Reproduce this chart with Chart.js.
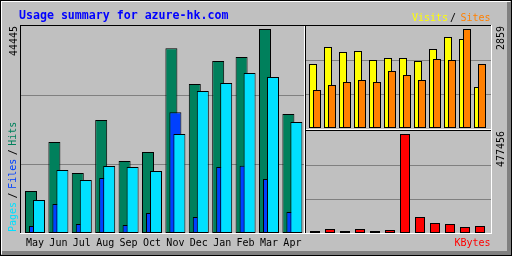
<!DOCTYPE html>
<html>
<head>
<meta charset="utf-8">
<script src="https://cdn.jsdelivr.net/npm/chart.js@4.4.1/dist/chart.umd.min.js"></script>
<style>
  html, body { margin: 0; padding: 0; background: #c0c0c0; }
  #wrap { position: relative; width: 512px; height: 256px; }
  #wrap canvas { position: absolute; left: 0; top: 0; }
</style>
</head>
<body>
<div id="wrap">
  <canvas id="usage" width="512" height="256"></canvas>
  <canvas id="visitsChart" width="512" height="256"></canvas>
  <canvas id="kbytesChart" width="512" height="256"></canvas>
</div>
<script>
// Monthly summary (May .. Apr)
var months = ['May', 'Jun', 'Jul', 'Aug', 'Sep', 'Oct', 'Nov', 'Dec', 'Jan', 'Feb', 'Mar', 'Apr'];
var hits   = [9151, 19826, 13072, 24619, 15687, 17647, 40241, 32463, 37474, 38345, 44445, 25926];
var files  = [1525, 6318, 1961, 11983, 1743, 4357, 26297, 3486, 14379, 14663, 11765, 4575];
var pages  = [7190, 13726, 11547, 14597, 14379, 13508, 21569, 30938, 32681, 34859, 33988, 24184];
var visits = [1848, 2339, 2195, 2224, 1964, 2022, 2022, 1935, 2282, 2628, 2570, 1184];
var sites  = [1097, 1242, 1328, 1386, 1328, 1646, 1531, 1386, 1993, 1964, 2859, 1848];
var kbytes = [9600, 19300, 9600, 19300, 9600, 14500, 477456, 77200, 48200, 43400, 28900, 33800];

const GREY = '#c0c0c0';
const DKGREY = '#808080';
const MONO = "'DejaVu Sans Mono', monospace";

const hitsPeak = Math.max(...hits);
const visitsPeak = Math.max(...visits, ...sites);
const kbytesPeak = Math.max(...kbytes);

/**
 * Put bars of one series at month index + shift (in month units)
 */
function points(values, shift) {
    return values.map((v, i) => ({ x: i + shift, y: v }));
}

function barSet(label, values, shift, color, thickness) {
    return {
        label: label,
        data: points(values, shift),
        backgroundColor: color,
        borderColor: '#000000',
        borderWidth: 1,
        borderSkipped: false,
        inflateAmount: 0,
        barThickness: thickness,
        grouped: false,
    };
}

// grid axis: two lines splitting the panel in thirds
const gridAxis = {
    type: 'linear',
    position: 'left',
    min: 0,
    max: 3,
    afterBuildTicks: (scale) => { scale.ticks = [{ value: 1 }, { value: 2 }]; },
    ticks: { display: false },
    border: { display: false },
    grid: { color: DKGREY, drawTicks: false, lineWidth: 1 },
};

// month axis of the small panels (one month = 15px)
const smallMonthAxis = { type: 'linear', display: false, offset: false, min: -0.6, max: 11.7333 };

function baseOptions(padding) {
    return {
        responsive: false,
        animation: false,
        events: [],
        layout: { padding: padding },
        plugins: { legend: { display: false }, tooltip: { enabled: false } },
    };
}

function upText(ctx, str, x, y, color) {
    ctx.save();
    ctx.translate(x, y);
    ctx.rotate(-Math.PI / 2);
    ctx.fillStyle = color;
    ctx.fillText(str, 0, 0);
    ctx.restore();
}

// Frame, panel borders and all the loose texts
const framePlugin = {
    id: 'frame',
    beforeDraw(chart) {
        const ctx = chart.ctx;
        ctx.save();
        ctx.fillStyle = GREY;
        ctx.fillRect(0, 0, 512, 256);
        // bevel
        ctx.fillStyle = '#ffffff';
        ctx.fillRect(1, 1, 509, 1);
        ctx.fillRect(1, 1, 1, 253);
        ctx.fillStyle = DKGREY;
        ctx.fillRect(507, 2, 4, 253);
        ctx.fillRect(2, 251, 509, 4);
        ctx.fillStyle = '#000000';
        ctx.fillRect(0, 0, 512, 1);
        ctx.fillRect(0, 255, 512, 1);
        ctx.fillRect(0, 0, 1, 256);
        ctx.fillRect(511, 0, 1, 256);
        // sunken plot box + section lines
        ctx.fillRect(20, 25, 472, 1);
        ctx.fillRect(20, 25, 1, 209);
        ctx.fillRect(305, 25, 1, 209);
        ctx.fillRect(305, 130, 186, 1);
        ctx.fillStyle = '#ffffff';
        ctx.fillRect(20, 233, 472, 1);
        ctx.fillRect(491, 25, 1, 209);
        ctx.fillRect(304, 26, 1, 207);
        ctx.fillRect(306, 129, 185, 1);
        ctx.restore();
    },
    afterDraw(chart) {
        const ctx = chart.ctx;
        ctx.save();
        ctx.textBaseline = 'alphabetic';
        ctx.textAlign = 'left';
        ctx.font = 'bold 11.6px ' + MONO;
        ctx.fillStyle = '#0000ff';
        ctx.fillText('Usage summary for azure-hk.com', 19, 19);

        ctx.font = '10px ' + MONO;
        ctx.textAlign = 'right';
        ctx.fillStyle = '#ff8000';
        ctx.fillText('Sites', 490.5, 21);
        ctx.fillStyle = '#ffff00';
        ctx.fillText('Visits', 448, 21);
        ctx.textAlign = 'center';
        ctx.fillStyle = '#000000';
        ctx.fillText('/', 453, 21);
        ctx.textAlign = 'right';
        ctx.fillStyle = '#ff0000';
        ctx.fillText('KBytes', 490.5, 246);

        // rotated maxima
        ctx.textAlign = 'left';
        upText(ctx, String(hitsPeak), 16.5, 56, '#000000');
        upText(ctx, String(visitsPeak), 503.5, 50, '#000000');
        upText(ctx, String(kbytesPeak), 503.5, 167, '#000000');

        // Pages / Files / Hits legend, bottom to top
        const parts = [['Pages', '#00e0ff'], ['/', '#000000'], ['Files', '#0040ff'], ['/', '#000000'], ['Hits', '#00805c']];
        let y = 232;
        parts.forEach(([str, color]) => {
            upText(ctx, str, 15.5, y, color);
            y -= ctx.measureText(str).width + 3.5;
        });
        ctx.restore();
    }
};

// Left panel: hits / files / pages (first dataset is drawn on top)
const usageChart = new Chart(document.getElementById('usage'), {
    type: 'bar',
    data: {
        datasets: [
            barSet('Pages', pages, 4 / 23.4, '#00e0ff', 12),
            barSet('Files', files, 0, '#0040ff', 12),
            barSet('Hits', hits, -4 / 23.4, '#00805c', 12),
        ]
    },
    options: Object.assign(baseOptions({ left: 21, right: 208, top: 26, bottom: 0 }), {
        scales: {
            x: {
                type: 'linear',
                offset: false,
                min: -0.598,
                max: 11.496,
                afterBuildTicks: (scale) => { scale.ticks = months.map((m, i) => ({ value: i })); },
                afterFit: (scale) => { scale.height = 23; },
                grid: { display: false, drawTicks: false },
                border: { display: false },
                ticks: {
                    autoSkip: false,
                    maxRotation: 0,
                    padding: 4,
                    color: '#000000',
                    font: { family: MONO, size: 10 },
                    callback: (v) => months[v],
                },
            },
            y: { display: false, min: 0, max: hitsPeak * 207 / 204 },
            g: gridAxis,
        }
    }),
    plugins: [framePlugin],
});

// Top right panel: visits / sites
const visitsChart = new Chart(document.getElementById('visitsChart'), {
    type: 'bar',
    data: {
        datasets: [
            barSet('Sites', sites, 2 / 15, '#ff8000', 8),
            barSet('Visits', visits, -2 / 15, '#ffff00', 8),
        ]
    },
    options: Object.assign(baseOptions({ left: 306, right: 21, top: 26, bottom: 128 }), {
        scales: {
            x: smallMonthAxis,
            y: { display: false, min: 0, max: visitsPeak * 102 / 99 },
            g: gridAxis,
        }
    }),
});

// Bottom right panel: kbytes
const kbytesChart = new Chart(document.getElementById('kbytesChart'), {
    type: 'bar',
    data: {
        datasets: [
            barSet('KBytes', kbytes, 0, '#ff0000', 10),
        ]
    },
    options: Object.assign(baseOptions({ left: 306, right: 21, top: 131, bottom: 23 }), {
        scales: {
            x: smallMonthAxis,
            y: { display: false, min: 0, max: kbytesPeak * 102 / 99 },
            g: gridAxis,
        }
    }),
});
</script>
</body>
</html>
